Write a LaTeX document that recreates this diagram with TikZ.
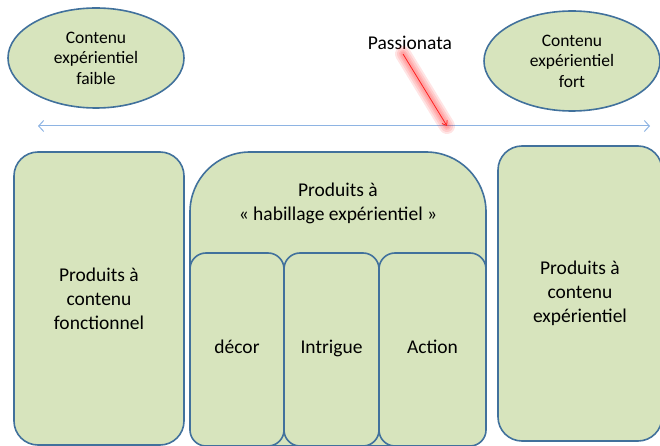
\documentclass[tikz,border=0pt]{standalone}
\usepackage{fontspec}
\setmainfont{Carlito}
\usetikzlibrary{shapes.geometric,arrows.meta}

\definecolor{BoxFill}{HTML}{D7E4BD}
\definecolor{BoxBorder}{HTML}{41719C}
\definecolor{AxisBlue}{HTML}{8EB4E3}
\definecolor{MarkRed}{HTML}{FF2020}
\tikzstyle{content-ellipse}=[ellipse, draw=BoxBorder, fill=BoxFill, line width=1.6pt, inner sep=0pt, minimum width=176pt, minimum height=100pt, align=center, font=\fontsize{17.5}{20.5}\selectfont]
\tikzstyle{product-box}=[rectangle, draw=BoxBorder, fill=BoxFill, line width=1.6pt, inner sep=0pt, rounded corners=24pt, align=center, font=\fontsize{19.5}{24}\selectfont]
\tikzstyle{sub-box}=[product-box, rounded corners=16pt, minimum height=193pt, text height=0.7em, text depth=0pt]
\tikzstyle{glow}=[MarkRed, line cap=round, opacity=0.12]

\begin{document}
\begin{tikzpicture}[x=1pt, y=-1pt]
      \useasboundingbox (0,0) rectangle (660,446);

      \node (ellipse-faible) at (96,58)  [content-ellipse] {Contenu\\expérientiel\\faible};
      \node (ellipse-fort)   at (572,61) [content-ellipse] {Contenu\\expérientiel\\fort};

      \coordinate (axis-left)  at (38,126);
      \coordinate (axis-right) at (650,126);
      \coordinate (axis-mark)  at (447,126);
      \draw [AxisBlue, line width=1pt, {Straight Barb[length=5pt,width=11pt]}-{Straight Barb[length=5pt,width=11pt]}] (axis-left) -- (axis-right);

      \node (passionata) at (410,43) [font=\fontsize{19.5}{24}\selectfont, inner sep=1pt] {Passionata};
      \foreach \w in {16,12,8,5}
        \draw [glow, line width=\w pt] ([xshift=-7pt,yshift=-3pt]passionata.south) -- (axis-mark);
      \draw [MarkRed, line width=0.8pt, -{Straight Barb[length=4pt,width=6pt]}] ([xshift=-7pt,yshift=-3pt]passionata.south) -- (axis-mark);

      \node (box-fonctionnel) at (99,298.5) [product-box, minimum width=170pt, minimum height=293pt] {Produits à\\contenu\\fonctionnel};
      \node (box-habillage)   at (338,299)  [product-box, rounded corners=60pt, minimum width=296pt, minimum height=294pt] {};
      \node (text-habillage)  at (338,203)  [align=center, font=\fontsize{19.5}{24}\selectfont] {Produits à\\« habillage expérientiel »};
      \node (box-decor)    at (237,349.5)   [sub-box, minimum width=94pt]  {décor};
      \node (box-intrigue) at (331.5,349.5) [sub-box, minimum width=95pt]  {Intrigue};
      \node (box-action)   at (432.5,349.5) [sub-box, minimum width=107pt] {Action};
      \node (box-experientiel) at (580,293.5) [product-box, minimum width=164pt, minimum height=295pt] {Produits à\\contenu\\expérientiel};
    \end{tikzpicture}
\end{document}
